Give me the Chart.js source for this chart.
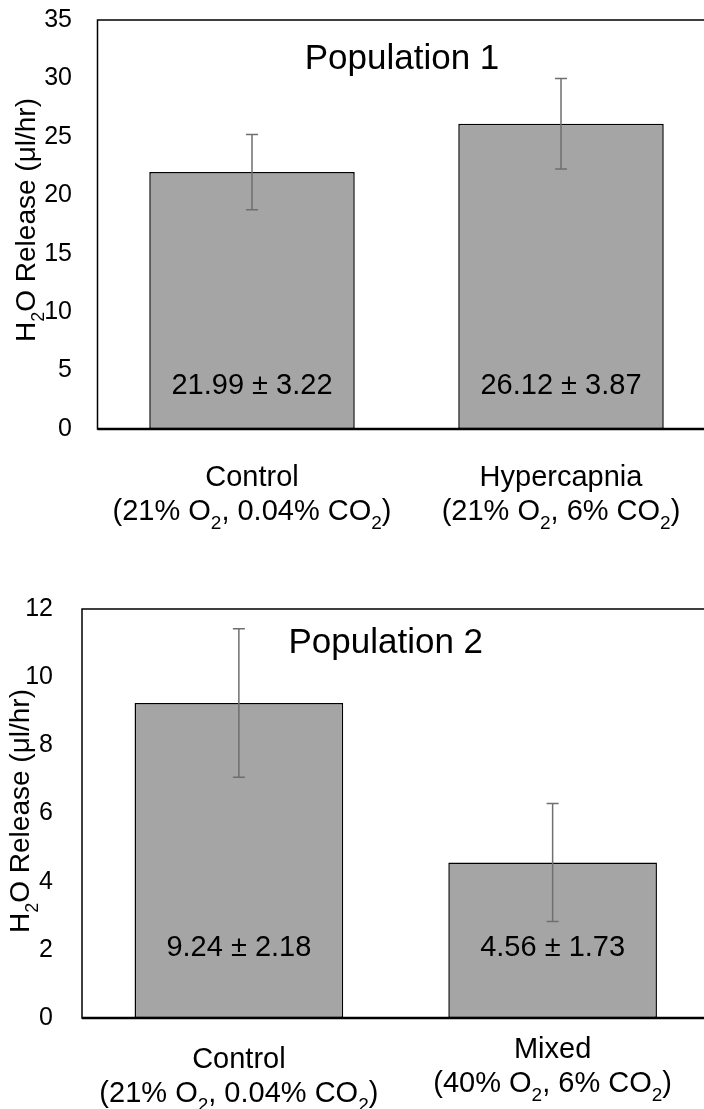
<!DOCTYPE html>
<html>
<head>
<meta charset="utf-8">
<title>H2O release</title>
<script src="https://cdn.jsdelivr.net/npm/chart.js@4.4.0/dist/chart.umd.min.js"></script>
<style>
  html, body { margin: 0; padding: 0; background: #fff; overflow: hidden; }
  body { width: 704px; height: 1109px; position: relative; }
  canvas { position: absolute; left: 0; }
  #pop1 { top: 0; }
  #pop2 { top: 560px; }
</style>
</head>
<body>
<canvas id="pop1" width="720" height="545"></canvas>
<canvas id="pop2" width="720" height="549"></canvas>
<script>
// "_2" marks a subscript character
const categories1 = [['Control', '(21% O_2, 0.04% CO_2)'], ['Hypercapnia', '(21% O_2, 6% CO_2)']];
const release1 = [21.99, 26.12];
const errors1 = [3.22, 3.87];
const ticks1 = [0, 5, 10, 15, 20, 25, 30, 35];

const categories2 = [['Control', '(21% O_2, 0.04% CO_2)'], ['Mixed', '(40% O_2, 6% CO_2)']];
const release2 = [9.24, 4.56];
const errors2 = [2.18, 1.73];
const ticks2 = [0, 2, 4, 6, 8, 10, 12];

const yTitle = 'H_2O Release (μl/hr)';
const FONT = '"Liberation Sans", Arial, sans-serif';

function splitSub(text) {
    const parts = [];
    let buf = '';
    for (let i = 0; i < text.length; i++) {
        if (text[i] === '_') {
            if (buf) parts.push({ t: buf, sub: false });
            buf = '';
            parts.push({ t: text[i + 1], sub: true });
            i++;
        } else {
            buf += text[i];
        }
    }
    if (buf) parts.push({ t: buf, sub: false });
    return parts;
}

function drawRich(ctx, text, x, y, size, align) {
    const parts = splitSub(text);
    const subSize = Math.round(size * 0.66);
    let total = 0;
    parts.forEach(p => {
        ctx.font = (p.sub ? subSize : size) + 'px ' + FONT;
        p.w = ctx.measureText(p.t).width;
        total += p.w;
    });
    let cx = align === 'center' ? x - total / 2 : x;
    ctx.textAlign = 'left';
    ctx.textBaseline = 'alphabetic';
    parts.forEach(p => {
        ctx.font = (p.sub ? subSize : size) + 'px ' + FONT;
        ctx.fillText(p.t, cx, y + (p.sub ? size * 0.32 : 0));
        cx += p.w;
    });
}

// frame, error bars, value labels, title and the two-line category labels
const decor = {
    id: 'decor',
    afterDatasetsDraw(chart, args, opts) {
        const ctx = chart.ctx;
        const area = chart.chartArea;
        const ds = chart.data.datasets[0];
        const meta = chart.getDatasetMeta(0);
        const y = chart.scales.y;
        ctx.save();

        ctx.strokeStyle = '#6f6f6f';
        ctx.lineWidth = 1.5;
        ds.data.forEach((v, i) => {
            const x = meta.data[i].x;
            const top = y.getPixelForValue(v + ds.errors[i]);
            const bot = y.getPixelForValue(v - ds.errors[i]);
            ctx.beginPath();
            ctx.moveTo(x, top); ctx.lineTo(x, bot);
            ctx.moveTo(x - 6, top); ctx.lineTo(x + 6, top);
            ctx.moveTo(x - 6, bot); ctx.lineTo(x + 6, bot);
            ctx.stroke();
        });

        ctx.fillStyle = '#000';
        ds.data.forEach((v, i) => {
            const text = v.toFixed(2) + ' ± ' + ds.errors[i].toFixed(2);
            drawRich(ctx, text, meta.data[i].x, area.bottom - opts.valueRise, 29, 'center');
        });

        ctx.strokeStyle = '#000';
        ctx.lineWidth = 1.5;
        ctx.strokeRect(area.left, area.top, area.right - area.left, area.bottom - area.top);
        ctx.lineWidth = 2.5;
        ctx.beginPath();
        ctx.moveTo(area.left, area.bottom);
        ctx.lineTo(area.right, area.bottom);
        ctx.stroke();

        drawRich(ctx, opts.title, (area.left + area.right) / 2 + opts.titleDx, area.top + opts.titleDy, 35, 'center');

        chart.data.labels.forEach((lines, i) => {
            const x = meta.data[i].x;
            lines.forEach((line, k) => {
                drawRich(ctx, line, x, area.bottom + opts.labelDrop[i] + k * 33.5, 29, 'center');
            });
        });

        ctx.translate(opts.yTitleX, opts.yTitleY);
        ctx.rotate(-Math.PI / 2);
        drawRich(ctx, yTitle, 0, 0, 28, 'center');
        ctx.restore();
    }
};

function makeChart(id, labels, values, errors, ticks, yWidth, pad, tickPad, decorOpts) {
    return new Chart(document.getElementById(id), {
        type: 'bar',
        data: {
            labels: labels,
            datasets: [{
                data: values,
                errors: errors,
                backgroundColor: '#a5a5a5',
                borderColor: '#000',
                borderWidth: 1.5,
                borderSkipped: false,
                categoryPercentage: 1,
                barPercentage: 0.665,
            }],
        },
        options: {
            responsive: false,
            animation: false,
            events: [],
            layout: { padding: pad },
            plugins: {
                legend: { display: false },
                tooltip: { enabled: false },
                title: { display: false },
                decor: decorOpts,
            },
            scales: {
                x: {
                    ticks: { display: false },
                    grid: { display: false, drawTicks: false },
                    border: { display: false },
                    afterFit: s => { s.height = 0; },
                },
                y: {
                    min: ticks[0],
                    max: ticks[ticks.length - 1],
                    afterBuildTicks: s => { s.ticks = ticks.map(v => ({ value: v })); },
                    ticks: {
                        color: '#000',
                        padding: tickPad,
                        font: { family: FONT, size: 25 },
                    },
                    grid: { display: false, drawTicks: false },
                    border: { display: false },
                    afterFit: s => {
                        s.width = yWidth;
                        s.paddingTop = 0;
                        s.paddingBottom = 0;
                    },
                },
            },
        },
        plugins: [decor],
    });
}

makeChart('pop1', categories1, release1, errors1, ticks1, 97.5,
    { top: 20, right: 4.5, bottom: 116, left: 0 }, 25.5,
    { title: 'Population 1', titleDx: -4.5, titleDy: 49, valueRise: 35,
      labelDrop: [57, 57], yTitleX: 35, yTitleY: 220 });

makeChart('pop2', categories2, release2, errors2, ticks2, 82,
    { top: 49, right: 10.5, bottom: 91, left: 0 }, 29,
    { title: 'Population 2', titleDx: -10, titleDy: 44, valueRise: 62,
      labelDrop: [50, 40], yTitleX: 29, yTitleY: 251 });
</script>
</body>
</html>
